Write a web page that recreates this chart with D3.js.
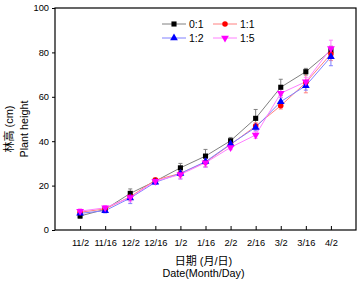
<!DOCTYPE html>
<html>
<head>
<meta charset="UTF-8">
<script src="https://d3js.org/d3.v7.min.js"></script>
<style>
  body { margin: 0; background: #fff; }
  text { font-family: "Liberation Sans", Arial, "Noto Sans CJK SC", sans-serif; fill: #000; }
  .cjk { font-family: "Liberation Sans", "Noto Sans CJK SC", sans-serif; }
</style>
</head>
<body>
<div id="chart"></div>
<script>
const dates = ["11/2", "11/16", "12/2", "12/16", "1/2", "1/16", "2/2", "2/16", "3/2", "3/16", "4/2"];
const seriesNames = ["0:1", "1:1", "1:2", "1:5"];
const h01 = [6.3, 9.3, 16.5, 22, 28, 33.3, 40.2, 50.3, 64.3, 71.3, 80.8];
const h11 = [8, 9.5, 15, 22.5, 25.5, 30.5, 38.5, 46.8, 56, 66.4, 79.3];
const h12 = [7.5, 8.7, 14.4, 21.5, 25.5, 30.8, 38.7, 46.2, 57.8, 65, 78];
const h15 = [8.5, 10, 14.7, 22, 25, 30.3, 37.2, 42.8, 61.6, 66.8, 81.8];
const e01 = [1, 1, 2, 1, 2, 3, 1.5, 4, 3.6, 1.5, 2];
const e11 = [1, 1, 1.5, 1, 1.5, 2, 1, 1.5, 1.5, 4.6, 3];
const e12 = [1, 1, 2.5, 1, 2.5, 2.5, 1, 1.5, 2, 2, 4];
const e15 = [1, 1, 2, 1, 2, 2, 1, 1.5, 2, 2, 3.7];
const yTicks = [0, 20, 40, 60, 80, 100];

const series = [
  { name: seriesNames[0], vals: h01, err: e01, mark: "square",   color: "#000000", line: "#808080" },
  { name: seriesNames[1], vals: h11, err: e11, mark: "circle",   color: "#ff0000", line: "#ff8080" },
  { name: seriesNames[2], vals: h12, err: e12, mark: "triangle", color: "#0000ff", line: "#8080ff" },
  { name: seriesNames[3], vals: h15, err: e15, mark: "triangleDown", color: "#ff00ff", line: "#ff80ff" }
];

const W = 361, H = 283;
const mLeft = 55, mRight = 356, mTop = 8, mBottom = 230;

const svg = d3.select("#chart").append("svg")
  .attr("width", W).attr("height", H);

const x = d3.scalePoint().domain(dates).range([mLeft, mRight]).padding(1);
const y = d3.scaleLinear().domain([0, 100]).range([mBottom, mTop]);

// frame
svg.append("rect")
  .attr("x", mLeft).attr("y", mTop)
  .attr("width", mRight - mLeft).attr("height", mBottom - mTop)
  .attr("fill", "none").attr("stroke", "#000").attr("stroke-width", 1.2);

// x axis, ticks inside
const xAxis = svg.append("g")
  .attr("transform", `translate(0,${mBottom})`)
  .call(d3.axisBottom(x).tickSizeInner(-4).tickSizeOuter(0).tickPadding(9));
xAxis.select(".domain").remove();
xAxis.selectAll("text").attr("font-size", 9.3).attr("font-family", "Liberation Sans, Arial, sans-serif");

// y axis, ticks outside
const yAxis = svg.append("g")
  .attr("transform", `translate(${mLeft},0)`)
  .call(d3.axisLeft(y).tickValues(yTicks).tickSizeInner(3).tickSizeOuter(0).tickPadding(3));
yAxis.select(".domain").remove();
yAxis.selectAll("text").attr("font-size", 9.3).attr("font-family", "Liberation Sans, Arial, sans-serif");

// axis titles
svg.append("text").attr("class", "cjk")
  .attr("x", (mLeft + mRight) / 2 - 2).attr("y", 265)
  .attr("text-anchor", "middle").attr("font-size", 11)
  .text("日期 (月/日)");
svg.append("text")
  .attr("x", (mLeft + mRight) / 2 - 2).attr("y", 277)
  .attr("text-anchor", "middle").attr("font-size", 10.8)
  .text("Date(Month/Day)");
svg.append("text").attr("class", "cjk")
  .attr("transform", "translate(13,129) rotate(-90)")
  .attr("text-anchor", "middle").attr("font-size", 11)
  .text("林高 (cm)");
svg.append("text")
  .attr("transform", "translate(28,129) rotate(-90)")
  .attr("text-anchor", "middle").attr("font-size", 10.8)
  .text("Plant height");

function symbolFor(m) {
  if (m === "square") return d3.symbol(d3.symbolSquare, 26);
  if (m === "circle") return d3.symbol(d3.symbolCircle, 24);
  return d3.symbol(d3.symbolTriangle, 26);
}

const line = d3.line().x((d, i) => x(dates[i])).y(d => y(d));

series.forEach(s => {
  const g = svg.append("g");
  // error bars
  s.vals.forEach((v, i) => {
    const cx = x(dates[i]);
    const y1 = y(v + s.err[i]), y2 = y(v - s.err[i]);
    g.append("line").attr("x1", cx).attr("x2", cx).attr("y1", y1).attr("y2", y2)
      .attr("stroke", s.line).attr("stroke-width", 1);
    [y1, y2].forEach(yy => g.append("line")
      .attr("x1", cx - 2).attr("x2", cx + 2).attr("y1", yy).attr("y2", yy)
      .attr("stroke", s.line).attr("stroke-width", 1));
  });
  g.append("path").datum(s.vals).attr("d", line)
    .attr("fill", "none").attr("stroke", s.line).attr("stroke-width", 1);
});

series.forEach(s => {
  svg.append("g").selectAll("path").data(s.vals).join("path")
    .attr("d", symbolFor(s.mark))
    .attr("transform", (d, i) => `translate(${x(dates[i])},${y(d)})${s.mark === "triangleDown" ? " rotate(180)" : ""}`)
    .attr("fill", s.color);
});

// legend
const legPos = [[162, 24], [213, 24], [162, 38], [213, 38]];
series.forEach((s, k) => {
  const [lx, ly] = legPos[k];
  const g = svg.append("g").attr("transform", `translate(${lx},${ly})`);
  g.append("line").attr("x1", 0).attr("x2", 24).attr("y1", 0).attr("y2", 0)
    .attr("stroke", s.line).attr("stroke-width", 1);
  g.append("path").attr("d", symbolFor(s.mark))
    .attr("transform", `translate(12,0)${s.mark === "triangleDown" ? " rotate(180)" : ""}`)
    .attr("fill", s.color);
  g.append("text").attr("x", 27).attr("y", 3.8).attr("font-size", 10.5).text(s.name);
});
</script>
</body>
</html>
